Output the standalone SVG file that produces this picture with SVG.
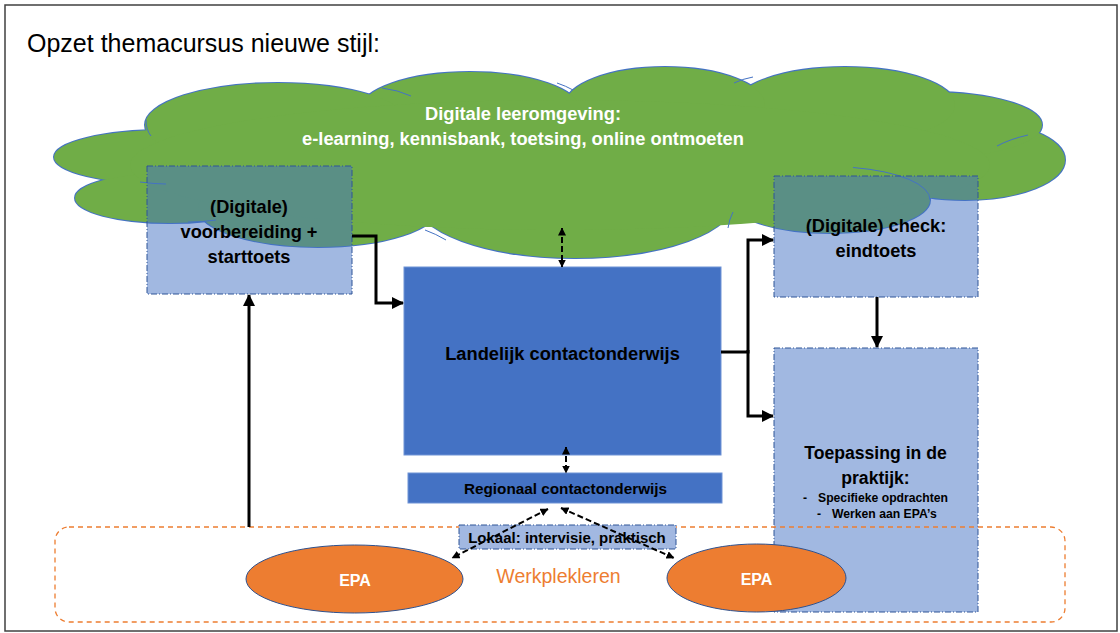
<svg xmlns="http://www.w3.org/2000/svg" width="1120" height="633" viewBox="0 0 1120 633">
<style>
.lobe{fill:#70ad47;stroke:#4472c4;stroke-width:2}
.lobefill{fill:#70ad47;stroke:none}
.inner{fill:none;stroke:#4472c4;stroke-width:1}
.soft{fill:#4472c4;fill-opacity:0.5;stroke:#2f5597;stroke-width:1;stroke-dasharray:6 2 1 2}
.solidbox{fill:#4472c4;stroke:#6f93d6;stroke-width:1}
.b{font-family:"Liberation Sans",Arial,sans-serif;font-weight:bold;fill:#000}
.w{font-family:"Liberation Sans",Arial,sans-serif;font-weight:bold;fill:#fff}
.conn{fill:none;stroke:#000;stroke-width:3}
.dash{fill:none;stroke:#000;stroke-width:2;stroke-dasharray:6 3}
.epa{fill:#ed7d31;stroke:#2f528f;stroke-width:1}
</style>
<defs>
<marker id="ah" markerUnits="userSpaceOnUse" markerWidth="12" markerHeight="12" viewBox="0 0 12 12" refX="11" refY="6" orient="auto-start-reverse">
<path d="M0,0 L12,6 L0,12 Z" fill="#000"/>
</marker>
<marker id="ahs" markerUnits="userSpaceOnUse" markerWidth="8" markerHeight="8" viewBox="0 0 8 8" refX="7.5" refY="4" orient="auto-start-reverse">
<path d="M0,0 L8,4 L0,8 Z" fill="#000"/>
</marker>
</defs>
<rect x="0" y="0" width="1120" height="633" fill="#fff"/>
<rect x="5" y="5" width="1112" height="626" fill="none" stroke="#404040" stroke-width="1.5"/>
<text x="27" y="52" font-family="Liberation Sans, Arial, sans-serif" font-size="25" fill="#000">Opzet themacursus nieuwe stijl:</text>

<g id="cloud">
<ellipse class="lobe" cx="165" cy="157" rx="111" ry="27"/>
<ellipse class="lobe" cx="170" cy="198" rx="95" ry="25"/>
<ellipse class="lobe" cx="318" cy="208" rx="120" ry="39"/>
<ellipse class="lobe" cx="575" cy="200" rx="160" ry="58"/>
<ellipse class="lobe" cx="830" cy="200" rx="100" ry="33"/>
<ellipse class="lobe" cx="965" cy="160" rx="100" ry="40"/>
<ellipse class="lobe" cx="930" cy="125" rx="112" ry="33"/>
<ellipse class="lobe" cx="845" cy="105" rx="110" ry="38"/>
<ellipse class="lobe" cx="665" cy="105" rx="100" ry="38"/>
<ellipse class="lobe" cx="470" cy="110" rx="110" ry="38"/>
<ellipse class="lobe" cx="278" cy="125" rx="133" ry="42"/>
<ellipse class="lobefill" cx="165" cy="157" rx="111" ry="27"/>
<ellipse class="lobefill" cx="170" cy="198" rx="95" ry="25"/>
<ellipse class="lobefill" cx="318" cy="208" rx="120" ry="39"/>
<ellipse class="lobefill" cx="575" cy="200" rx="160" ry="58"/>
<ellipse class="lobefill" cx="830" cy="200" rx="100" ry="33"/>
<ellipse class="lobefill" cx="965" cy="160" rx="100" ry="40"/>
<ellipse class="lobefill" cx="930" cy="125" rx="112" ry="33"/>
<ellipse class="lobefill" cx="845" cy="105" rx="110" ry="38"/>
<ellipse class="lobefill" cx="665" cy="105" rx="100" ry="38"/>
<ellipse class="lobefill" cx="470" cy="110" rx="110" ry="38"/>
<ellipse class="lobefill" cx="278" cy="125" rx="133" ry="42"/>
<ellipse class="lobefill" cx="560" cy="165" rx="430" ry="65"/>
<path class="inner" d="M146,120 Q146,130 151,136"/>
<path class="inner" d="M140,182 Q155,184 166,184"/>
<path class="inner" d="M188,222 Q203,222 216,220"/>
<path class="inner" d="M382,88 Q398,90 411,96"/>
<path class="inner" d="M557,83 Q566,86 573,90"/>
<path class="inner" d="M734,83 Q742,79 753,77"/>
<path class="inner" d="M997,146 Q1010,139 1028,135"/>
<path class="inner" d="M853,167.5 A100,33 0 0 1 930,200"/>
<path class="inner" d="M733,212 Q729,220 728,228"/>
<path class="inner" d="M425,230 Q436,234 446,240"/>
<text class="w" x="523" y="119.5" font-size="18.3" text-anchor="middle">Digitale leeromgeving:</text>
<text class="w" x="523" y="144.5" font-size="18.3" text-anchor="middle">e-learning, kennisbank, toetsing, online ontmoeten</text>
</g>

<g id="starttoets">
<rect class="soft" x="147" y="166" width="205" height="128"/>
<text class="b" x="249" y="212.5" font-size="18.2" text-anchor="middle">(Digitale)</text>
<text class="b" x="249" y="237.5" font-size="18.2" text-anchor="middle">voorbereiding +</text>
<text class="b" x="249" y="262.5" font-size="18.2" text-anchor="middle">starttoets</text>
</g>

<g id="check">
<rect class="soft" x="774" y="176" width="204" height="121"/>
<text class="b" x="876" y="231.5" font-size="18.2" text-anchor="middle">(Digitale) check:</text>
<text class="b" x="876" y="256.5" font-size="18.2" text-anchor="middle">eindtoets</text>
</g>

<g id="landelijk">
<rect class="solidbox" x="404" y="267" width="317" height="188"/>
<text class="b" x="562.5" y="359.5" font-size="18.3" text-anchor="middle">Landelijk contactonderwijs</text>
</g>

<g id="regionaal">
<rect class="solidbox" x="408" y="473" width="314" height="30"/>
<text class="b" x="565.5" y="493.5" font-size="15.3" text-anchor="middle">Regionaal contactonderwijs</text>
</g>

<g id="toepassing">
<rect class="soft" x="774" y="348" width="204" height="264"/>
<text class="b" x="875.5" y="458.5" font-size="17.6" text-anchor="middle">Toepassing in de</text>
<text class="b" x="875.5" y="483.5" font-size="17.6" text-anchor="middle">praktijk:</text>
<text class="b" x="803" y="502.3" font-size="12.2">-</text>
<text class="b" x="818" y="502.3" font-size="12.2">Specifieke opdrachten</text>
<text class="b" x="817" y="518.3" font-size="12.2">-</text>
<text class="b" x="832" y="518.3" font-size="12.2">Werken aan EPA’s</text>
</g>

<g id="werkplekleren">
<rect x="55" y="527" width="1010" height="95" rx="14" ry="14" fill="none" stroke="#ed7d31" stroke-width="1.3" stroke-dasharray="5 4"/>
<text x="558.5" y="583" font-family="Liberation Sans, Arial, sans-serif" font-size="19.5" fill="#ed7d31" text-anchor="middle">Werkplekleren</text>
</g>

<g id="lokaal">
<rect x="459" y="525" width="217" height="24" fill="#a2b8e1" stroke="#2f5597" stroke-width="1" stroke-dasharray="6 2 1 2"/>
<text class="b" x="567" y="543.3" font-size="15" text-anchor="middle">Lokaal: intervisie, praktisch</text>
</g>

<g id="epa-left">
<ellipse class="epa" cx="354.5" cy="579" rx="108.5" ry="34"/>
<text class="w" x="355" y="585.5" font-size="16" text-anchor="middle">EPA</text>
</g>

<g id="epa-right">
<ellipse class="epa" cx="756.5" cy="578" rx="89.5" ry="34"/>
<text class="w" x="756.5" y="585" font-size="16" text-anchor="middle">EPA</text>
</g>

<g id="connectors">
<path class="conn" d="M249,527 V295" marker-end="url(#ah)"/>
<path class="conn" d="M352,236 H376 V303 H403" marker-end="url(#ah)"/>
<path class="conn" d="M721,352 H748 V240 H773" marker-end="url(#ah)"/>
<path class="conn" d="M748,350 V416 H773" marker-end="url(#ah)"/>
<path class="conn" d="M877,297 V347" marker-end="url(#ah)"/>
<path class="dash" d="M562,228 V267" marker-start="url(#ahs)" marker-end="url(#ahs)"/>
<path class="dash" d="M566,447 V473" marker-start="url(#ahs)" marker-end="url(#ahs)"/>
<path class="dash" d="M548,509 L452,558" marker-start="url(#ahs)" marker-end="url(#ahs)"/>
<path class="dash" d="M561,508 L674,558" marker-start="url(#ahs)" marker-end="url(#ahs)"/>
</g>
</svg>
